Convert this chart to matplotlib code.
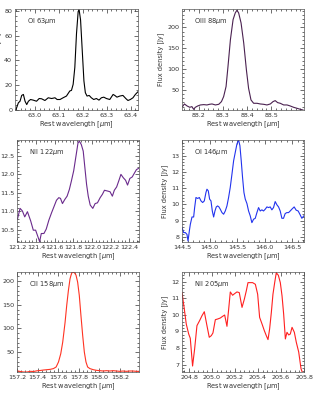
import matplotlib
matplotlib.use("Agg")
import matplotlib.pyplot as plt
from matplotlib.ticker import MultipleLocator, AutoMinorLocator, FormatStrFormatter

# OI 63um
oi63_x = [62.921, 62.931, 62.938, 62.945, 62.952, 62.959, 62.966, 62.973, 62.982, 62.993,
          63.007, 63.018, 63.028, 63.042, 63.056, 63.070, 63.084, 63.093, 63.105, 63.118,
          63.132, 63.146, 63.153, 63.160, 63.167, 63.174, 63.181, 63.185, 63.191, 63.198,
          63.205, 63.211, 63.218, 63.227, 63.236, 63.246, 63.257, 63.268, 63.278, 63.288,
          63.299, 63.313, 63.327, 63.334, 63.343, 63.355, 63.368, 63.380, 63.389, 63.399,
          63.410, 63.420, 63.431]
oi63_y = [0.0, 5.5, 6.8, 11.5, 12.3, 6.8, 4.1, 6.8, 8.2, 7.7,
          6.8, 9.0, 8.8, 7.4, 9.6, 9.0, 9.6, 8.2, 8.2, 9.6,
          11.0, 15.1, 15.6, 20.5, 34.2, 61.6, 79.5, 80.8, 72.6, 47.9,
          23.3, 13.7, 11.0, 11.5, 9.6, 8.2, 9.0, 7.7, 9.6, 10.1,
          9.0, 8.2, 12.3, 11.5, 10.1, 11.0, 11.5, 9.0, 7.4, 8.2,
          9.6, 12.3, 14.5]

# OIII 88um
oiii88_x = [88.133, 88.141, 88.152, 88.163, 88.172, 88.179, 88.186, 88.196, 88.207, 88.221,
            88.234, 88.245, 88.255, 88.269, 88.283, 88.294, 88.303, 88.313, 88.321, 88.331,
            88.342, 88.351, 88.358, 88.365, 88.375, 88.386, 88.397, 88.406, 88.416, 88.427,
            88.441, 88.454, 88.468, 88.482, 88.496, 88.507, 88.516, 88.526, 88.537, 88.551,
            88.565, 88.578, 88.592, 88.606, 88.620, 88.631]
oiii88_y = [9.9, 16.3, 11.5, 8.3, 9.9, 3.4, 8.3, 11.5, 13.9, 14.7,
            13.9, 15.5, 16.3, 13.9, 15.5, 21.9, 33.9, 58.0, 106.2, 170.4,
            218.5, 234.6, 241.0, 234.6, 210.5, 162.4, 98.2, 54.0, 25.9, 17.9,
            17.9, 16.3, 15.5, 13.9, 16.3, 21.9, 24.3, 19.5, 17.9, 13.9,
            13.9, 11.5, 8.3, 5.9, 3.4, 1.8]

# NII 122um
nii122_x = [121.200, 121.228, 121.253, 121.278, 121.307, 121.342, 121.370, 121.395, 121.420, 121.438,
            121.456, 121.484, 121.509, 121.537, 121.566, 121.591, 121.619, 121.644, 121.662, 121.683,
            121.708, 121.733, 121.757, 121.779, 121.804, 121.828, 121.850, 121.864, 121.885, 121.906,
            121.924, 121.942, 121.960, 121.981, 122.009, 122.034, 122.059, 122.088, 122.112, 122.134,
            122.166, 122.194, 122.219, 122.240, 122.265, 122.290, 122.311, 122.336, 122.361, 122.382,
            122.407, 122.432, 122.457, 122.478, 122.499]
nii122_y = [10.79, 11.08, 11.01, 10.85, 10.99, 10.74, 10.49, 10.49, 10.31, 10.18,
            10.40, 10.40, 10.52, 10.76, 10.96, 11.12, 11.30, 11.37, 11.35, 11.21,
            11.32, 11.41, 11.59, 11.82, 12.10, 12.49, 12.85, 12.90, 12.81, 12.63,
            12.18, 11.73, 11.41, 11.17, 11.08, 11.21, 11.23, 11.37, 11.46, 11.57,
            11.55, 11.53, 11.41, 11.57, 11.66, 11.84, 12.00, 11.91, 11.84, 11.71,
            11.89, 11.93, 12.04, 12.13, 12.16]

# OI 146um
oi146_x = [144.500, 144.530, 144.560, 144.590, 144.609, 144.633, 144.651, 144.681, 144.711, 144.729,
           144.753, 144.783, 144.814, 144.844, 144.874, 144.904, 144.934, 144.952, 144.976, 145.000,
           145.025, 145.049, 145.073, 145.097, 145.121, 145.145, 145.169, 145.193, 145.224, 145.254,
           145.284, 145.314, 145.344, 145.374, 145.405, 145.435, 145.465, 145.495, 145.525, 145.549,
           145.573, 145.597, 145.622, 145.646, 145.676, 145.706, 145.736, 145.766, 145.796, 145.827,
           145.857, 145.887, 145.917, 145.947, 145.977, 146.008, 146.038, 146.068, 146.098, 146.128,
           146.158, 146.188, 146.219, 146.249, 146.279, 146.309, 146.339, 146.369, 146.399, 146.430,
           146.460, 146.490, 146.532, 146.568, 146.604, 146.641, 146.671, 146.707]
oi146_y = [8.58, 8.27, 8.27, 8.16, 7.75, 8.37, 8.78, 9.23, 9.23, 9.81,
           10.43, 10.37, 10.43, 10.22, 10.12, 10.22, 10.74, 10.94, 10.84, 10.33,
           10.22, 9.60, 9.23, 9.60, 9.85, 9.91, 9.85, 9.71, 9.50, 9.40,
           9.60, 9.91, 10.43, 11.05, 11.87, 12.69, 13.21, 13.72, 13.97, 13.62,
           12.69, 11.66, 10.74, 10.33, 10.06, 9.60, 9.30, 8.88, 9.09, 9.15,
           9.50, 9.81, 9.60, 9.67, 9.60, 9.71, 9.85, 9.81, 9.85, 9.67,
           9.81, 10.18, 9.98, 9.85, 9.60, 9.15, 9.15, 9.44, 9.50, 9.50,
           9.60, 9.71, 9.85, 9.65, 9.60, 9.36, 9.15, 9.30]

# CII 158um
cii158_x = [157.200, 157.232, 157.264, 157.297, 157.329, 157.361, 157.393, 157.425, 157.458, 157.490,
            157.522, 157.554, 157.580, 157.603, 157.625, 157.644, 157.667, 157.683, 157.699, 157.715,
            157.731, 157.754, 157.773, 157.789, 157.805, 157.821, 157.838, 157.854, 157.870, 157.886,
            157.908, 157.941, 157.973, 158.005, 158.037, 158.069, 158.102, 158.134, 158.166, 158.198,
            158.230, 158.263, 158.295, 158.327, 158.359, 158.385]
cii158_y = [10.3, 8.9, 7.8, 7.8, 9.2, 8.9, 10.3, 11.0, 12.0, 12.7,
            13.4, 15.0, 18.4, 29.0, 46.5, 71.0, 113.0, 149.0, 180.0, 205.0,
            217.6, 219.0, 213.0, 198.0, 170.0, 127.5, 85.0, 50.0, 29.0, 18.4,
            15.0, 12.7, 11.3, 10.6, 9.9, 10.6, 9.9, 10.6, 9.9, 9.2,
            9.9, 9.2, 9.9, 9.9, 9.2, 9.2]

# NII 205um
nii205_x = [204.739, 204.759, 204.776, 204.797, 204.811, 204.831, 204.849, 204.869, 204.892, 204.913,
            204.933, 204.956, 204.976, 204.994, 205.008, 205.029, 205.049, 205.072, 205.092, 205.110,
            205.130, 205.145, 205.159, 205.179, 205.197, 205.217, 205.237, 205.261, 205.281, 205.298,
            205.313, 205.333, 205.353, 205.377, 205.397, 205.414, 205.435, 205.455, 205.472, 205.487,
            205.501, 205.516, 205.530, 205.545, 205.559, 205.577, 205.594, 205.609, 205.623, 205.638,
            205.652, 205.667, 205.681, 205.696, 205.716, 205.733, 205.754, 205.774, 205.800]
nii205_y = [11.34, 10.35, 9.45, 8.85, 8.59, 6.92, 7.96, 9.35, 9.65, 9.95,
            10.19, 9.35, 8.65, 8.75, 8.91, 9.71, 9.75, 9.81, 9.91, 9.99,
            9.31, 10.35, 11.38, 11.18, 11.28, 11.38, 11.34, 10.45, 10.94, 11.44,
            11.94, 11.94, 11.94, 11.84, 11.24, 9.85, 9.45, 9.05, 8.75, 8.51,
            9.15, 10.15, 11.24, 11.94, 12.54, 12.38, 11.94, 11.14, 10.05, 8.55,
            8.95, 8.79, 8.85, 9.25, 8.95, 8.35, 7.76, 6.76, 6.26]

labels = ["OI 63$\\mu$m", "OIII 88$\\mu$m", "NII 122$\\mu$m",
          "OI 146$\\mu$m", "CII 158$\\mu$m", "NII 205$\\mu$m"]
colors = ["black", "#4a2150", "#6a2a8c", "#2233ee", "#ff3322", "#ff2020"]
xlims = [(62.917, 63.431), (88.131, 88.635), (121.195, 122.505),
         (144.5, 146.71), (157.2, 158.385), (204.739, 205.8)]
ylims = [(-0.3, 81.5), (1.8, 244), (10.17, 12.93), (7.69, 13.97), (7.8, 219.5), (6.56, 12.58)]
xticks = [[63.0, 63.1, 63.2, 63.3, 63.4],
          [88.2, 88.3, 88.4, 88.5],
          [121.2, 121.4, 121.6, 121.8, 122.0, 122.2, 122.4],
          [144.5, 145.0, 145.5, 146.0, 146.5],
          [157.2, 157.4, 157.6, 157.8, 158.0, 158.2],
          [204.8, 205.0, 205.2, 205.4, 205.6, 205.8]]
ysteps = [20, 50, 0.5, 1, 50, 1]
yfmt = ["%d", "%d", "%.1f", "%d", "%d", "%d"]

xs = [oi63_x, oiii88_x, nii122_x, oi146_x, cii158_x, nii205_x]
ys = [oi63_y, oiii88_y, nii122_y, oi146_y, cii158_y, nii205_y]

# axes boxes in pixels (left, top, right, bottom)
boxes = [(15, 9, 138, 110), (182, 9, 304, 110),
         (17, 140, 139, 242), (182, 140, 304, 242),
         (17, 272, 139, 372), (182, 272, 304, 372)]

W, H = 314, 393
fig = plt.figure(figsize=(W / 100, H / 100), dpi=100)
tc = "#333333"

for i in range(6):
    l, t, r, b = boxes[i]
    ax = fig.add_axes([l / W, 1 - b / H, (r - l) / W, (b - t) / H])
    ax.plot(xs[i], ys[i], color=colors[i], lw=0.8)
    ax.set_xlim(*xlims[i])
    ax.set_ylim(*ylims[i])
    ax.set_xticks(xticks[i])
    ax.yaxis.set_major_locator(MultipleLocator(ysteps[i]))
    ax.xaxis.set_major_formatter(FormatStrFormatter("%.1f"))
    ax.yaxis.set_major_formatter(FormatStrFormatter(yfmt[i]))
    ax.xaxis.set_minor_locator(AutoMinorLocator(5))
    ax.yaxis.set_minor_locator(AutoMinorLocator(5))
    ax.tick_params(which="both", direction="in", top=True, right=True,
                   labelsize=4.6, labelcolor=tc, width=0.4, pad=2)
    ax.tick_params(which="major", length=3)
    ax.tick_params(which="minor", length=1.5)
    for s in ax.spines.values():
        s.set_linewidth(0.5)
        s.set_color("#555555")
    ax.set_xlabel("Rest wavelength [$\\mu$m]", fontsize=4.8, color=tc, labelpad=1)
    ax.set_ylabel("Flux density [Jy]", fontsize=4.8, color=tc, labelpad=2)
    ax.text(0.1, 0.86, labels[i], transform=ax.transAxes, fontsize=4.8, color=tc)

fig.savefig("out.png", dpi=100)
